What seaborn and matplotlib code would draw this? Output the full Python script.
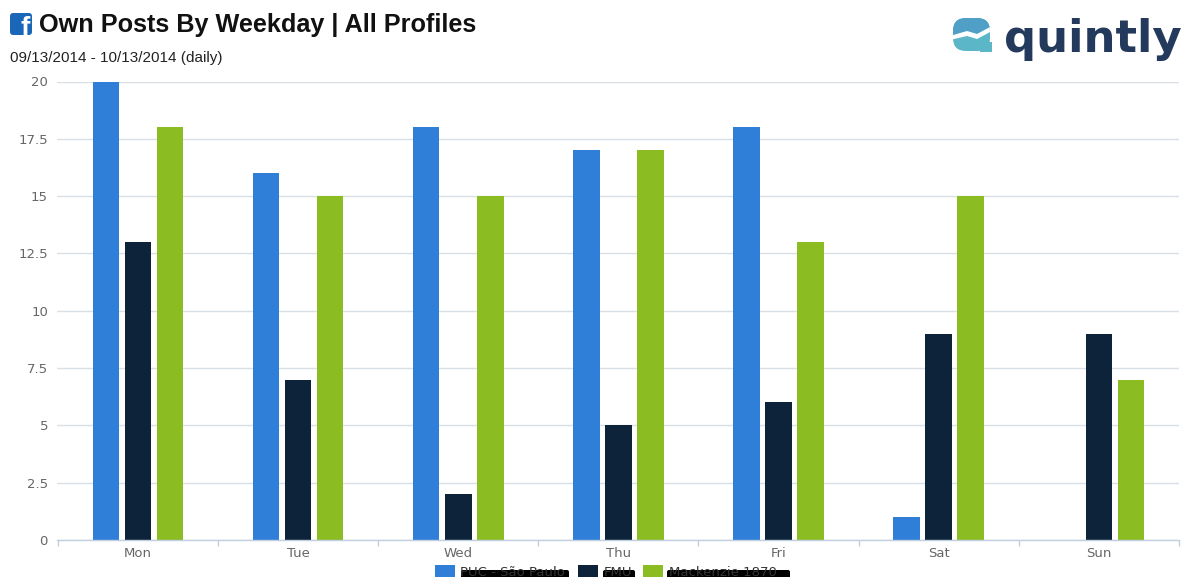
import matplotlib
matplotlib.use("Agg")
import matplotlib.pyplot as plt
from matplotlib.patches import FancyBboxPatch, Polygon, Rectangle
from matplotlib.ticker import FixedLocator
import pandas as pd
import seaborn as sns

weekdays = ["Mon", "Tue", "Wed", "Thu", "Fri", "Sat", "Sun"]
puc_posts = [20, 16, 18, 17, 18, 1, 0]
fmu_posts = [13, 7, 2, 5, 6, 9, 9]
mackenzie_posts = [18, 15, 15, 17, 13, 15, 7]
profile_names = ["PUC - São Paulo", "FMU", "Mackenzie 1870"]
profile_colors = ["#2f7ed8", "#0d233a", "#8bbc21"]
y_ticks = [0, 2.5, 5, 7.5, 10, 12.5, 15, 17.5, 20]
y_tick_labels = ["0", "2.5", "5", "7.5", "10", "12.5", "15", "17.5", "20"]

W, H = 1186, 577

posts = pd.DataFrame({
    "weekday": weekdays * 3,
    "profile": [n for n in profile_names for _ in weekdays],
    "count": puc_posts + fmu_posts + mackenzie_posts,
})

sns.set_theme(style="white")
plt.rcParams["font.family"] = ["DejaVu Sans"]

fig = plt.figure(figsize=(W / 100, H / 100), dpi=100, facecolor="white")
ax = fig.add_axes([57 / W, 1 - 540 / H, (1179 - 57) / W, (540 - 81.5) / H])

sns.barplot(data=posts, x="weekday", y="count", hue="profile", order=weekdays,
            hue_order=profile_names, palette=profile_colors, saturation=1,
            width=0.6, gap=0.17, linewidth=0, ax=ax, legend=False)

ax.set_xlim(-0.505, 6.495)
ax.set_ylim(0, 20)
ax.set_xlabel("")
ax.set_ylabel("")
ax.set_axisbelow(True)

ax.yaxis.set_major_locator(FixedLocator(y_ticks))
ax.set_yticklabels(y_tick_labels)
ax.grid(axis="y", color="#d8e0e5", linewidth=1)
ax.grid(axis="x", visible=False)
ax.tick_params(axis="y", length=0, pad=6.5, labelsize=9.5, labelcolor="#666666")

# category labels sit between the ticks, which mark the band boundaries
ax.set_xticks([i - 0.5 for i in range(len(weekdays) + 1)], [""] * (len(weekdays) + 1))
ax.tick_params(axis="x", length=4, width=1, color="#c0d0e0", direction="out", pad=0, bottom=True)
for i, day in enumerate(weekdays):
    ax.annotate(day, xy=(i, 0), xycoords=ax.get_xaxis_transform(), xytext=(0, -12),
                textcoords="offset points", ha="center", va="baseline",
                fontsize=9.5, color="#666666")

for side in ["top", "left", "right"]:
    ax.spines[side].set_visible(False)
ax.spines["bottom"].set_color("#c0d0e0")
ax.spines["bottom"].set_linewidth(1)

# overlay in pixel coordinates for header, logo and legend
ov = fig.add_axes([0, 0, 1, 1], facecolor="none")
ov.set_xlim(0, W)
ov.set_ylim(H, 0)
ov.axis("off")

# header
ov.add_patch(FancyBboxPatch((10, 13), 22, 22, boxstyle="round,pad=0,rounding_size=3",
                            fc="#1a66b8", ec="none"))
ov.text(25, 36, "f", family="Liberation Sans", fontweight="bold", fontsize=20,
        color="white", ha="center", va="baseline", clip_on=True)
ov.text(39, 32, "Own Posts By Weekday | All Profiles", family="Liberation Sans",
        fontweight="bold", fontsize=18.2, color="#111111", ha="left", va="baseline")
ov.text(10, 62, "09/13/2014 - 10/13/2014 (daily)", family="Liberation Sans",
        fontsize=11, color="#222222", ha="left", va="baseline")

# logo: speech bubble with a rising line, then the word mark
bubble = FancyBboxPatch((953, 18), 37, 33, boxstyle="round,pad=0,rounding_size=13",
                        fc="#5bb7c8", ec="none")
ov.add_patch(bubble)
ov.add_patch(Polygon([(980, 42), (992, 42), (992, 52), (980, 52)], closed=True,
                     fc="#5bb7c8", ec="none"))
upper = Polygon([(950, 36), (967, 31), (977, 34), (992, 26), (992, 15), (950, 15)],
                closed=True, fc="#4f9fc6", ec="none")
ov.add_patch(upper)
upper.set_clip_path(bubble)
rising_line = Polygon([(950, 36), (967, 31), (977, 34), (992, 26), (992, 31), (977, 39),
                       (967, 36), (950, 40)], closed=True, fc="white", ec="none")
ov.add_patch(rising_line)
rising_line.set_clip_path(bubble)
ov.text(1004, 52, "quintly", family="DejaVu Sans", fontweight="bold", fontsize=32.4,
        color="#243a5c", ha="left", va="baseline")

# legend, running off the bottom edge with names struck through
for x0, color, name, tx in zip([435, 578, 643], profile_colors, profile_names, [460, 604, 669]):
    ov.add_patch(Rectangle((x0, 565), 20, 14, fc=color, ec="none"))
    ov.text(tx, 576, name, fontsize=9.5, color="#333333", ha="left", va="baseline")
for x0, x1 in [(461, 569), (603, 635), (667, 790)]:
    ov.add_patch(FancyBboxPatch((x0, 570), x1 - x0, 10, boxstyle="round,pad=0,rounding_size=2",
                                fc="black", ec="none"))

fig.savefig("out.png", dpi=100)
